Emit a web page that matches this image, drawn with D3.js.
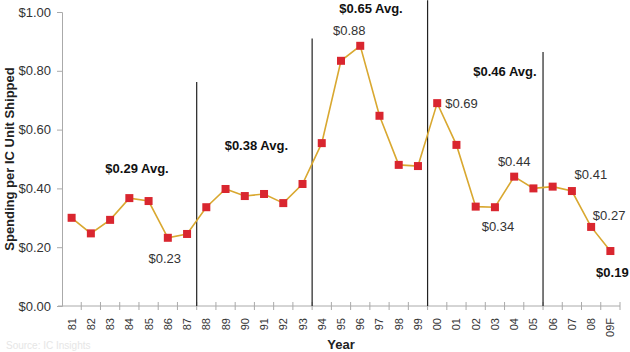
<!DOCTYPE html>
<html lang="en">
<head>
    <meta charset="UTF-8">
    <title>Spending per IC Unit Shipped</title>
    <script src="https://d3js.org/d3.v7.min.js"></script>
    <style>
        body { margin: 0; background: #fff; }
        text { font-family: "Liberation Sans", Arial, sans-serif; }
    </style>
</head>
<body>
<script type="text/javascript">
    var years = ["81","82","83","84","85","86","87","88","89","90","91","92","93","94","95","96","97","98","99","00","01","02","03","04","05","06","07","08","09F"];
    var spending = [0.30,0.247,0.293,0.367,0.357,0.232,0.245,0.336,0.398,0.374,0.381,0.350,0.415,0.554,0.834,0.885,0.647,0.480,0.476,0.690,0.548,0.338,0.336,0.440,0.400,0.406,0.391,0.269,0.187];
    var yTicks = [0, 0.2, 0.4, 0.6, 0.8, 1.0];

    // period dividers (placed between these years) and their averages
    var dividerAfter = ["87", "93", "99", "05"];
    var dividerTop = [0.762, 0.91, 1.04, 0.864];
    var avgLabels = ["$0.29 Avg.", "$0.38 Avg.", "$0.65 Avg.", "$0.46 Avg."];
    // year, fraction of a step to the right, value
    var avgAt = [["84", 0.4, 0.452], ["90", 0.6, 0.531], ["96", 0.56, 0.997], ["03", 0.52, 0.782]];

    // point callouts: year, text, dx, dy(px), anchor, bold
    var callouts = [
        ["86", "$0.23", -3, 25, "middle", false],
        ["96", "$0.88", -11, -11, "middle", false],
        ["00", "$0.69", 8, 5, "start", false],
        ["03", "$0.34", 3, 24, "middle", false],
        ["04", "$0.44", 0, -11, "middle", false],
        ["07", "$0.41", 19, -12, "middle", false],
        ["08", "$0.27", 18, -7, "middle", false],
        ["09F", "$0.19", 2, 26, "middle", true]
    ];

    var svgWidth = 630, svgHeight = 352;
    var plotLeft = 62, plotRight = 620, plotTop = 12, plotBottom = 306;

    var svg = d3.select("body").append("svg")
        .attr("width", svgWidth)
        .attr("height", svgHeight);

    var xScale = d3.scalePoint().domain(years).range([plotLeft, plotRight]).padding(0.5);
    var step = xScale.step();
    var yScale = d3.scaleLinear().domain([0, 1]).range([plotBottom, plotTop]);

    // y axis
    var yAxis = d3.axisLeft(yScale)
        .tickValues(yTicks)
        .tickSize(5)
        .tickPadding(6)
        .tickFormat(function (d) { return "$" + d3.format(".2f")(d); });
    var gy = svg.append("g")
        .attr("transform", "translate(" + plotLeft + ",0)")
        .call(yAxis);
    gy.select(".domain").attr("stroke", "#aaa");
    gy.selectAll(".tick line").attr("stroke", "#aaa");
    gy.selectAll(".tick text").attr("font-size", "13px").attr("fill", "#333")
        .attr("font-family", "Liberation Sans, Arial, sans-serif");

    // x axis: ticks at band edges, labels rotated
    var edges = d3.range(years.length + 1).map(function (i) { return plotLeft + i * step; });
    var xAxisG = svg.append("g");
    xAxisG.append("line")
        .attr("x1", plotLeft - 4).attr("x2", plotRight)
        .attr("y1", plotBottom).attr("y2", plotBottom)
        .attr("stroke", "#aaa");
    xAxisG.selectAll("line.tk")
        .data(edges.slice(1))
        .enter().append("line")
        .attr("class", "tk")
        .attr("x1", function (d) { return d; }).attr("x2", function (d) { return d; })
        .attr("y1", plotBottom - 4).attr("y2", plotBottom + 4)
        .attr("stroke", "#aaa");
    xAxisG.selectAll("text")
        .data(years)
        .enter().append("text")
        .attr("transform", function (d) {
            return "translate(" + (xScale(d) + 4) + "," + (plotBottom + 12) + ") rotate(-90)";
        })
        .attr("text-anchor", "end")
        .attr("font-size", "11px")
        .attr("fill", "#333")
        .text(function (d) { return d; });

    // dividers
    svg.selectAll("line.divider")
        .data(dividerAfter)
        .enter().append("line")
        .attr("class", "divider")
        .attr("x1", function (d) { return xScale(d) + step / 2; })
        .attr("x2", function (d) { return xScale(d) + step / 2; })
        .attr("y1", function (d, i) { return yScale(dividerTop[i]); })
        .attr("y2", plotBottom)
        .attr("stroke", "#222")
        .attr("stroke-width", 1.2);

    // average labels
    svg.selectAll("text.avg")
        .data(avgLabels)
        .enter().append("text")
        .attr("class", "avg")
        .attr("x", function (d, i) { return xScale(avgAt[i][0]) + step * avgAt[i][1]; })
        .attr("y", function (d, i) { return yScale(avgAt[i][2]); })
        .attr("text-anchor", "middle")
        .attr("font-size", "13px")
        .attr("font-weight", "bold")
        .attr("fill", "#111")
        .text(function (d) { return d; });

    // line
    var line = d3.line()
        .x(function (d, i) { return xScale(years[i]); })
        .y(function (d) { return yScale(d); });
    svg.append("path")
        .datum(spending)
        .attr("d", line)
        .attr("fill", "none")
        .attr("stroke", "#d9a830")
        .attr("stroke-width", 1.6);

    // markers
    var ms = 8;
    svg.selectAll("rect.mk")
        .data(spending)
        .enter().append("rect")
        .attr("class", "mk")
        .attr("x", function (d, i) { return xScale(years[i]) - ms / 2; })
        .attr("y", function (d) { return yScale(d) - ms / 2; })
        .attr("width", ms)
        .attr("height", ms)
        .attr("fill", "#d9262f");

    // callouts
    svg.selectAll("text.co")
        .data(callouts)
        .enter().append("text")
        .attr("class", "co")
        .attr("x", function (d) { return xScale(d[0]) + d[2]; })
        .attr("y", function (d) { return yScale(spending[years.indexOf(d[0])]) + d[3]; })
        .attr("text-anchor", function (d) { return d[4]; })
        .attr("font-size", "13px")
        .attr("font-weight", function (d) { return d[5] ? "bold" : "normal"; })
        .attr("fill", function (d) { return d[5] ? "#111" : "#333"; })
        .text(function (d) { return d[1]; });

    // axis titles
    svg.append("text")
        .attr("transform", "translate(14," + ((plotTop + plotBottom) / 2) + ") rotate(-90)")
        .attr("text-anchor", "middle")
        .attr("font-size", "13px")
        .attr("font-weight", "bold")
        .attr("fill", "#222")
        .text("Spending per IC Unit Shipped");
    svg.append("text")
        .attr("x", 341).attr("y", 349)
        .attr("text-anchor", "middle")
        .attr("font-size", "13px")
        .attr("font-weight", "bold")
        .attr("fill", "#222")
        .text("Year");

    svg.append("text")
        .attr("x", 6).attr("y", 349)
        .attr("font-size", "10px")
        .attr("fill", "#e6e6e6")
        .text("Source: IC Insights");
</script>
</body>
</html>
